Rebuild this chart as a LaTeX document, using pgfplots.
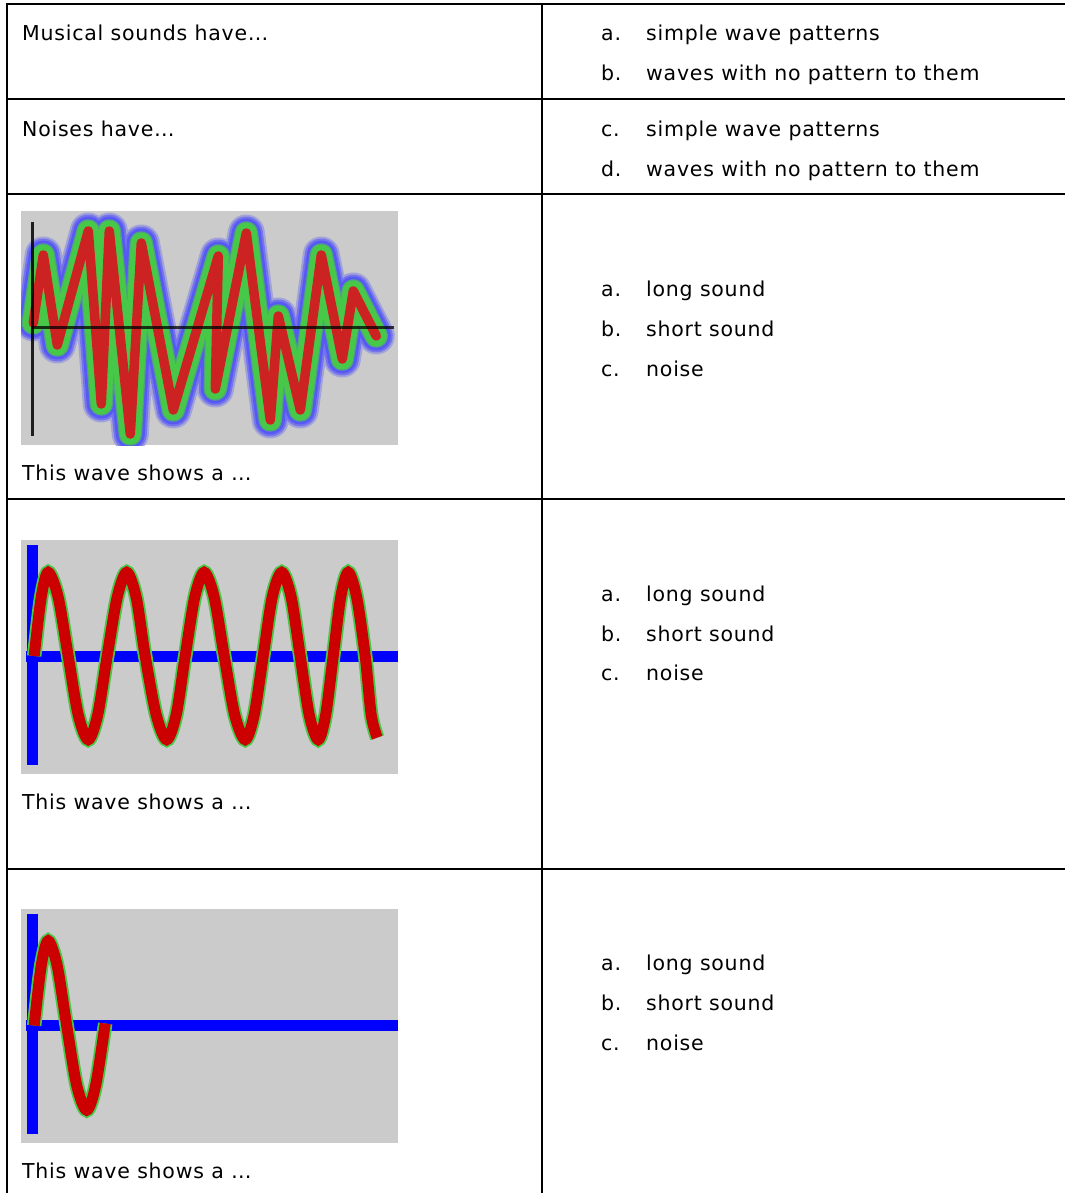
\documentclass[border=0pt]{standalone}
\usepackage{fontspec}
\setmainfont[LetterSpace=3.7]{DejaVu Sans}
\usepackage{pgfplots}
\usepackage{pgfplotstable}
\pgfplotsset{compat=1.18}

\definecolor{bggray}{RGB}{203,203,203}
\definecolor{noisered}{RGB}{204,34,34}
\definecolor{sinered}{RGB}{204,0,0}
\definecolor{halogreen}{RGB}{72,200,72}
\definecolor{haloblue}{RGB}{88,88,245}
\definecolor{axisblue}{RGB}{0,0,255}

% wave traces, x = time from the vertical axis, y = displacement
\pgfplotstableread{
x y
1 4
11 72
25 -18
56 96
69 -77
77 96
98 -107
109 84
141 -83
186 71
183 -62
214 94
238 -93
246 11
268 -83
289 72
310 -32
321 36
344 -9
}\noisedata

\pgfplotstableread{
x y
2 0
9 59
16 84
26 59
36 0
46 -59
56 -84
65.5 -59
75 0
85 59
94.5 84
104 59
113 0
124 -59
134.5 -84
144 -59
153 0
162.5 59
172 84
182 59
192 0
202.5 -59
213 -84
222 -59
231 0
240 59
249.5 84
259 59
268 0
277 -59
286 -84
293.5 -59
301 0
308.5 59
316 84
324.5 59
333 0
339 -59
345 -82
}\longdata

\pgfplotstableread{
x y
2 0
9 60
16 85
25 60
34.5 0
44.5 -60
54.5 -85
63.5 -60
73 2
}\shortdata

\pgfplotsset{
  wavebox/.style={
    scale only axis, width=377pt, height=234pt, anchor=north west,
    axis line style={draw=none}, ticks=none, enlargelimits=false,
    axis background/.style={fill=bggray},
    xmin=-11.2, xmax=365.8,
  },
}

% one answer line: letter at x=601, text at x=646, baseline y
\newcommand\opt[3]{%
  \node[anchor=base west, inner sep=0] at (601pt,-#1pt) {#2};
  \node[anchor=base west, inner sep=0] at (646pt,-#1pt) {#3};}
\newcommand\txt[2]{\node[anchor=base west, inner sep=0] at (22pt,-#1pt) {#2};}

\begin{document}
\begin{tikzpicture}[every node/.style={font=\fontsize{20.5}{24}\selectfont}]
\useasboundingbox (0,0) rectangle (1065pt,-1193pt);

% table rules
\draw[line width=2pt] (7.3pt,-1193pt) -- (7.3pt,-3.7pt) -- (1065pt,-3.7pt);
\draw[line width=2pt] (541.7pt,-3.7pt) -- (541.7pt,-1193pt);
\foreach \y in {99,194.3,499,869}
  \draw[line width=2pt] (7.3pt,-\y pt) -- (1065pt,-\y pt);

% text
\txt{40.5}{Musical sounds have…}
\opt{40.5}{a.}{simple wave patterns}
\opt{80.5}{b.}{waves with no pattern to them}
\txt{136.5}{Noises have…}
\opt{136.5}{c.}{simple wave patterns}
\opt{176.5}{d.}{waves with no pattern to them}

\txt{480}{This wave shows a …}
\opt{296}{a.}{long sound}
\opt{336}{b.}{short sound}
\opt{376}{c.}{noise}

\txt{809}{This wave shows a …}
\opt{601}{a.}{long sound}
\opt{641}{b.}{short sound}
\opt{680}{c.}{noise}

\txt{1178}{This wave shows a …}
\opt{970}{a.}{long sound}
\opt{1010}{b.}{short sound}
\opt{1050}{c.}{noise}

% wave 1: noise
\begin{axis}[wavebox, at={(21pt,-211pt)}, xmin=-11.3, xmax=365.7, ymin=-118, ymax=116,
  every axis plot/.append style={line join=round, line cap=round}]
\addplot[line width=37pt, haloblue!35!bggray] table {\noisedata};
\addplot[line width=33pt, haloblue!75!bggray] table {\noisedata};
\addplot[line width=29pt, haloblue] table {\noisedata};
\addplot[line width=23.5pt, halogreen!65!haloblue] table {\noisedata};
\addplot[line width=21pt, halogreen] table {\noisedata};
\addplot[line width=9.5pt, noisered] table {\noisedata};
\addplot[line width=3pt, black, opacity=0.75, line cap=butt] coordinates {(0,0) (362,0)};
\addplot[line width=3pt, black, opacity=0.85, line cap=butt] coordinates {(0,105) (0,-109)};
\end{axis}

% wave 2: long sound
\begin{axis}[wavebox, at={(21pt,-540pt)}, ymin=-118.5, ymax=116.5]
\addplot[line width=11pt, axisblue] coordinates {(0,111.5) (0,-109.5)};
\addplot[line width=11pt, axisblue] coordinates {(-6,0) (366,0)};
\addplot[line width=14.5pt, halogreen, smooth, tension=0.5] table {\longdata};
\addplot[line width=11pt, sinered, smooth, tension=0.5] table {\longdata};
\end{axis}

% wave 3: short sound
\begin{axis}[wavebox, at={(21pt,-909pt)}, ymin=-118, ymax=117]
\addplot[line width=11pt, axisblue] coordinates {(0,112) (0,-109)};
\addplot[line width=11pt, axisblue] coordinates {(-6,0) (366,0)};
\addplot[line width=14.5pt, halogreen, smooth, tension=0.5] table {\shortdata};
\addplot[line width=11pt, sinered, smooth, tension=0.5] table {\shortdata};
\end{axis}
\end{tikzpicture}
\end{document}
